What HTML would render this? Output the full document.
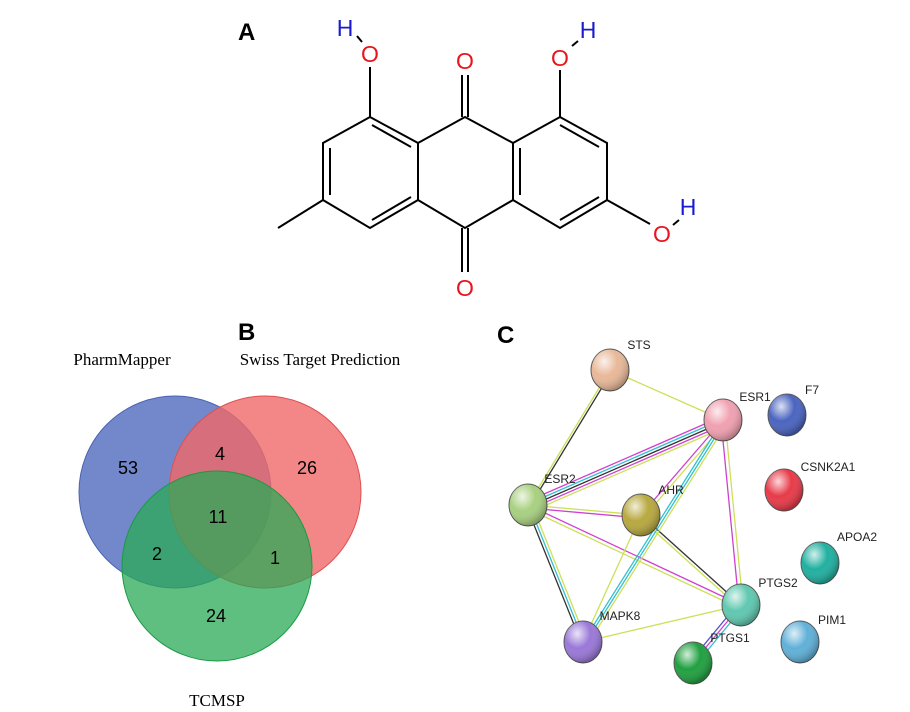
<!DOCTYPE html>
<html><head><style>body{margin:0;background:#fff}svg{display:block}</style></head><body>
<svg width="910" height="712" viewBox="0 0 910 712" xmlns="http://www.w3.org/2000/svg">
<defs>
<radialGradient id="g" cx="35%" cy="30%" r="70%"><stop offset="0" stop-color="#fff" stop-opacity=".8"/><stop offset=".5" stop-color="#fff" stop-opacity="0"/><stop offset="1" stop-color="#000" stop-opacity=".25"/></radialGradient>
</defs>
<g font-family="Liberation Sans, sans-serif" font-weight="bold" font-size="24" fill="#000">
<text x="238" y="40">A</text><text x="238" y="340">B</text><text x="497" y="343">C</text></g>
<!-- molecule -->
<g stroke="#000" stroke-width="2" fill="none">
<polyline points="370,117 323,143 323,200 370,228 418,200 418,143 370,117"/>
<polyline points="418,143 465,117 513,143 513,200 465,228 418,200"/>
<polyline points="513,143 560,117 607,143 607,200 560,228 513,200"/>
<line x1="330" y1="148" x2="330" y2="195"/><line x1="372" y1="125" x2="411" y2="147"/><line x1="372" y1="220" x2="411" y2="197"/>
<line x1="520" y1="148" x2="520" y2="195"/><line x1="560" y1="125" x2="599" y2="147"/><line x1="560" y1="220" x2="599" y2="197"/>
<line x1="323" y1="200" x2="278" y2="228"/>
<line x1="370" y1="117" x2="370" y2="67"/>
<line x1="462" y1="117" x2="462" y2="75"/><line x1="468" y1="117" x2="468" y2="75"/>
<line x1="462" y1="228" x2="462" y2="272"/><line x1="468" y1="228" x2="468" y2="272"/>
<line x1="560" y1="117" x2="560" y2="70"/>
<line x1="607" y1="200" x2="650" y2="224"/>
<line x1="357" y1="36" x2="362" y2="42"/><line x1="572" y1="46" x2="578" y2="41"/><line x1="673" y1="225" x2="679" y2="220"/>
</g>
<g font-family="Liberation Sans, sans-serif" font-size="23" text-anchor="middle">
<text x="370" y="62" fill="#e8141e">O</text><text x="465" y="69" fill="#e8141e">O</text><text x="560" y="66" fill="#e8141e">O</text>
<text x="465" y="296" fill="#e8141e">O</text><text x="662" y="242" fill="#e8141e">O</text>
<text x="345" y="36" fill="#1a1ad0">H</text><text x="588" y="38" fill="#1a1ad0">H</text><text x="688" y="215" fill="#1a1ad0">H</text>
</g>
<!-- Venn -->
<circle cx="175" cy="492" r="96" fill="#5a73c2" fill-opacity=".85" stroke="#4a63b2"/>
<circle cx="265" cy="492" r="96" fill="#f06868" fill-opacity=".8" stroke="#e05050"/>
<circle cx="217" cy="566" r="95" fill="#2aaa55" fill-opacity=".75" stroke="#1a9a45"/>
<g font-family="Liberation Serif, serif" font-size="17" text-anchor="middle">
<text x="122" y="365">PharmMapper</text><text x="320" y="365">Swiss Target Prediction</text><text x="217" y="706">TCMSP</text></g>
<g font-family="Liberation Sans, sans-serif" font-size="18" text-anchor="middle">
<text x="128" y="474">53</text><text x="220" y="460">4</text><text x="307" y="474">26</text><text x="218" y="523">11</text>
<text x="157" y="560">2</text><text x="275" y="564">1</text><text x="216" y="622">24</text></g>
<!-- network edges -->
<g fill="none" stroke-width="1.3">
<line x1="610" y1="370" x2="528" y2="505" stroke="#cde05a"/><line x1="612" y1="371" x2="530" y2="506" stroke="#333"/>
<line x1="610" y1="370" x2="723" y2="420" stroke="#cde05a"/>
<line x1="528" y1="501" x2="723" y2="416" stroke="#d040d0"/><line x1="528" y1="504" x2="723" y2="419" stroke="#30c0d0"/><line x1="528" y1="507" x2="723" y2="422" stroke="#333"/><line x1="528" y1="510" x2="723" y2="425" stroke="#d040d0"/><line x1="528" y1="513" x2="723" y2="428" stroke="#cde05a"/>
<line x1="528" y1="505" x2="641" y2="515" stroke="#cde05a"/><line x1="528" y1="508" x2="641" y2="518" stroke="#d040d0"/>
<line x1="528" y1="505" x2="741" y2="605" stroke="#d040d0"/><line x1="528" y1="509" x2="741" y2="609" stroke="#cde05a"/>
<line x1="526" y1="505" x2="581" y2="642" stroke="#333"/><line x1="529" y1="505" x2="584" y2="642" stroke="#30c0d0"/><line x1="532" y1="505" x2="587" y2="642" stroke="#cde05a"/>
<line x1="641" y1="515" x2="723" y2="420" stroke="#d040d0"/><line x1="644" y1="517" x2="726" y2="422" stroke="#cde05a"/>
<line x1="641" y1="515" x2="741" y2="605" stroke="#333"/><line x1="641" y1="519" x2="741" y2="609" stroke="#cde05a"/>
<line x1="641" y1="515" x2="583" y2="642" stroke="#cde05a"/>
<line x1="583" y1="642" x2="723" y2="420" stroke="#30c0d0"/><line x1="586" y1="642" x2="726" y2="420" stroke="#30c0d0"/><line x1="589" y1="642" x2="729" y2="420" stroke="#cde05a"/>
<line x1="721" y1="420" x2="739" y2="605" stroke="#d040d0"/><line x1="725" y1="420" x2="743" y2="605" stroke="#cde05a"/>
<line x1="583" y1="642" x2="741" y2="605" stroke="#cde05a"/>
<line x1="689" y1="663" x2="737" y2="605" stroke="#5050d0"/><line x1="693" y1="663" x2="741" y2="605" stroke="#d040d0"/><line x1="697" y1="663" x2="745" y2="605" stroke="#30c0d0"/>
</g>
<g stroke="#555" stroke-width="1">
<ellipse cx="610" cy="370" rx="19" ry="21" fill="#e8b898"/>
<ellipse cx="723" cy="420" rx="19" ry="21" fill="#f0a0b0"/>
<ellipse cx="787" cy="415" rx="19" ry="21" fill="#4a64c0"/>
<ellipse cx="784" cy="490" rx="19" ry="21" fill="#e83a48"/>
<ellipse cx="528" cy="505" rx="19" ry="21" fill="#a8d080"/>
<ellipse cx="641" cy="515" rx="19" ry="21" fill="#b8a840"/>
<ellipse cx="820" cy="563" rx="19" ry="21" fill="#20b0a0"/>
<ellipse cx="741" cy="605" rx="19" ry="21" fill="#60c8b0"/>
<ellipse cx="583" cy="642" rx="19" ry="21" fill="#9a78d8"/>
<ellipse cx="693" cy="663" rx="19" ry="21" fill="#20a040"/>
<ellipse cx="800" cy="642" rx="19" ry="21" fill="#60b0d8"/>
</g>
<g fill="url(#g)">
<ellipse cx="610" cy="370" rx="19" ry="21"/><ellipse cx="723" cy="420" rx="19" ry="21"/><ellipse cx="787" cy="415" rx="19" ry="21"/><ellipse cx="784" cy="490" rx="19" ry="21"/><ellipse cx="528" cy="505" rx="19" ry="21"/><ellipse cx="641" cy="515" rx="19" ry="21"/><ellipse cx="820" cy="563" rx="19" ry="21"/><ellipse cx="741" cy="605" rx="19" ry="21"/><ellipse cx="583" cy="642" rx="19" ry="21"/><ellipse cx="693" cy="663" rx="19" ry="21"/><ellipse cx="800" cy="642" rx="19" ry="21"/>
</g>
<g font-family="Liberation Sans, sans-serif" font-size="12" fill="#222" text-anchor="middle">
<text x="639" y="349">STS</text><text x="755" y="401">ESR1</text><text x="812" y="394">F7</text><text x="828" y="471">CSNK2A1</text>
<text x="560" y="483">ESR2</text><text x="671" y="494">AHR</text><text x="857" y="541">APOA2</text><text x="778" y="587">PTGS2</text>
<text x="620" y="620">MAPK8</text><text x="730" y="642">PTGS1</text><text x="832" y="624">PIM1</text></g>
</svg>
</body></html>
